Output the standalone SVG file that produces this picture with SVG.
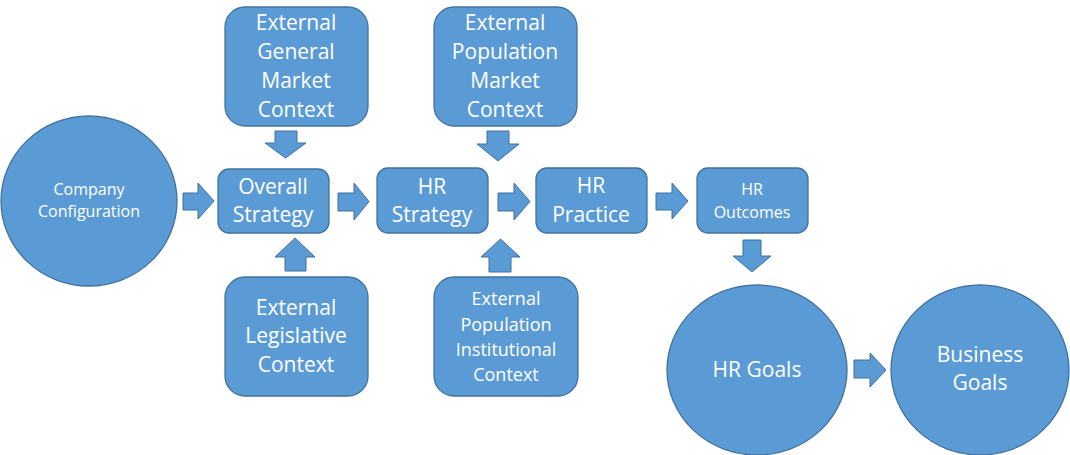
<svg xmlns="http://www.w3.org/2000/svg" width="1070" height="455" viewBox="0 0 1070 455">
<style>
.n{fill:#5B9BD5;stroke:#41719C;stroke-width:1.3}
.a{fill:#5B9BD5;stroke:#41719C;stroke-width:1}
text{fill:#fff;font-family:"Open Sans","Liberation Sans",sans-serif;text-anchor:middle}
.b{font-size:21px}
.m{font-size:18px}
.s{font-size:16px}
</style>
<rect width="1070" height="455" fill="#fff"/>
<g id="connectors">
<polygon class="a" points="183,193 198,193 198,183 214,201 198,219 198,210 183,210"/>
<polygon class="a" points="338,193 354,193 354,183 369,201.5 354,220 354,211 338,211"/>
<polygon class="a" points="498,193 514,193 514,183 530,201.5 514,220 514,211 498,211"/>
<polygon class="a" points="656,193 672,193 672,183 688,201 672,219 672,210 656,210"/>
<polygon class="a" points="854,360 870,360 870,353 886,370 870,387 870,378 854,378"/>
<polygon class="a" points="275,131 297,131 297,143 306,143 285.5,158 265,143 275,143"/>
<polygon class="a" points="487,131 509,131 509,144 519,144 498,161 477,144 487,144"/>
<polygon class="a" points="743,240 761,240 761,256 771,256 752,272 733,256 743,256"/>
<polygon class="a" points="285,271 306,271 306,257 315,257 295,238 275,257 285,257"/>
<polygon class="a" points="489,272 511,272 511,257 520,257 500.5,239 481,257 489,257"/>
</g>
<g id="company">
<ellipse class="n" cx="89" cy="201" rx="88" ry="85"/>
<text class="s" x="89" y="195">Company</text>
<text class="s" x="89" y="217">Configuration</text>
</g>
<g id="overall">
<rect class="n" x="218" y="169" width="111" height="64" rx="11"/>
<text class="b" x="273" y="194">Overall</text>
<text class="b" x="273" y="222">Strategy</text>
</g>
<g id="ext-general">
<rect class="n" x="225" y="7" width="143" height="119" rx="20"/>
<text class="b" x="296" y="30">External</text>
<text class="b" x="296" y="59">General</text>
<text class="b" x="296" y="88">Market</text>
<text class="b" x="296" y="117">Context</text>
</g>
<g id="hr-strategy">
<rect class="n" x="377" y="168" width="111" height="65" rx="11"/>
<text class="b" x="432" y="194">HR</text>
<text class="b" x="432" y="222">Strategy</text>
</g>
<g id="ext-pop-market">
<rect class="n" x="434" y="7" width="143" height="119" rx="20"/>
<text class="b" x="505" y="30">External</text>
<text class="b" x="505" y="59">Population</text>
<text class="b" x="505" y="88">Market</text>
<text class="b" x="505" y="117">Context</text>
</g>
<g id="hr-practice">
<rect class="n" x="536" y="168" width="111" height="65" rx="11"/>
<text class="b" x="591" y="193">HR</text>
<text class="b" x="591" y="222">Practice</text>
</g>
<g id="hr-outcomes">
<rect class="n" x="697" y="168" width="111" height="65" rx="11"/>
<text class="s" x="752" y="195">HR</text>
<text class="s" x="752" y="218">Outcomes</text>
</g>
<g id="ext-legislative">
<rect class="n" x="225" y="277" width="143" height="119" rx="20"/>
<text class="b" x="296" y="315">External</text>
<text class="b" x="296" y="343">Legislative</text>
<text class="b" x="296" y="372">Context</text>
</g>
<g id="ext-pop-inst">
<rect class="n" x="434" y="277" width="144" height="119" rx="20"/>
<text class="m" x="506" y="305">External</text>
<text class="m" x="506" y="331">Population</text>
<text class="m" x="506" y="356">Institutional</text>
<text class="m" x="506" y="381">Context</text>
</g>
<g id="hr-goals">
<ellipse class="n" cx="757" cy="370" rx="90" ry="85"/>
<text class="b" x="757" y="377">HR Goals</text>
</g>
<g id="business-goals">
<ellipse class="n" cx="980" cy="370" rx="89" ry="85"/>
<text class="b" x="980" y="362">Business</text>
<text class="b" x="980" y="390">Goals</text>
</g>
</svg>
